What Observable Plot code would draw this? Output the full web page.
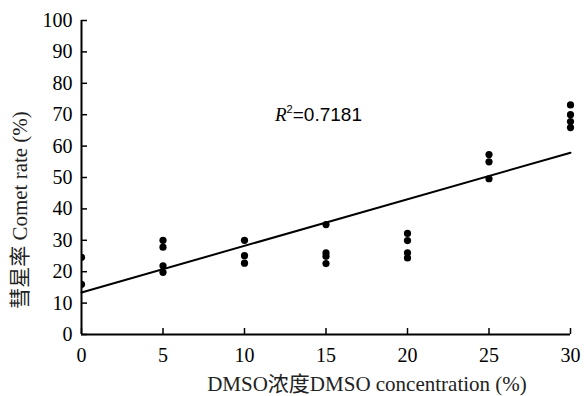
<!DOCTYPE html>
<html>
<head>
<meta charset="utf-8">
<script src="https://cdn.jsdelivr.net/npm/d3@7"></script>
<script src="https://cdn.jsdelivr.net/npm/@observablehq/plot@0.6"></script>
<style>
  html, body { margin: 0; padding: 0; background: #fff; }
  #chart svg { display: block; }
</style>
</head>
<body>
<div id="chart"></div>
<script>
// DMSO concentration (%) of each observation and comet rate (%)
const concentration = [0, 0, 5, 5, 5, 5, 10, 10, 10, 15, 15, 15, 15, 20, 20, 20, 20, 25, 25, 25, 30, 30, 30, 30];
const cometRate =     [24.6, 16.0, 30.0, 27.8, 21.9, 19.8, 30.0, 25.1, 22.7, 35.0, 26.0, 24.9, 22.6, 32.2, 29.9, 26.0, 24.4, 57.3, 55.0, 49.6, 73.1, 70.0, 67.8, 65.9];
// fitted regression line endpoints
const fitX = [0, 30];
const fitY = [13.4, 57.9];
const xTicks = [0, 5, 10, 15, 20, 25, 30];
const yTicks = [0, 10, 20, 30, 40, 50, 60, 70, 80, 90, 100];
const r2Label = "0.7181";
// axis titles split into [text, isCJK] pieces
const xLabelParts = [["DMSO", false], ["浓度", true], ["DMSO concentration (%)", false]];
const yLabelParts = [["彗星率", true], [" Comet rate (%)", false]];

const points = concentration.map((x, i) => ({x, y: cometRate[i]}));
const fit = fitX.map((x, i) => ({x, y: fitY[i]}));

const W = 584, H = 396;
const mL = 81, mR = 14, mT = 20, mB = 62;
const frameW = W - mL - mR, frameH = H - mT - mB;
const serif = "Liberation Serif, serif";
const cjk = "Noto Sans CJK SC, sans-serif";

const chart = Plot.plot({
  width: W,
  height: H,
  marginLeft: mL,
  marginRight: mR,
  marginTop: mT,
  marginBottom: mB,
  style: {fontFamily: serif, fontSize: "20px", color: "#000", background: "#fff"},
  x: {domain: [0, 30], ticks: xTicks},
  y: {domain: [0, 100], ticks: yTicks},
  marks: [
    Plot.axisX(xTicks, {tickSize: 0, tickPadding: 13, fontSize: 20, fontFamily: serif, label: null}),
    Plot.axisY(yTicks, {tickSize: 0, tickPadding: 9, fontSize: 20, fontFamily: serif, label: null}),
    Plot.tickX(xTicks, {x: d => d, insetTop: frameH - 6, stroke: "#000", strokeWidth: 1.5}),
    Plot.tickY(yTicks, {y: d => d, insetRight: frameW - 6, stroke: "#000", strokeWidth: 1.5}),
    Plot.dot(points.filter(d => d.x === 0), {x: "x", y: "y", r: 3.6, fill: "#000", stroke: "none", clip: true}),
    Plot.dot(points.filter(d => d.x !== 0), {x: "x", y: "y", r: 3.6, fill: "#000", stroke: "none"}),
    Plot.line(fit, {x: "x", y: "y", stroke: "#000", strokeWidth: 2}),
    Plot.ruleX([0], {stroke: "#000", strokeWidth: 2}),
    Plot.ruleY([0], {stroke: "#000", strokeWidth: 2})
  ]
});

const svg = d3.select(chart);

function addParts(sel, parts) {
  for (const [t, isCjk] of parts) {
    sel.append("tspan").attr("font-family", isCjk ? cjk : serif).text(t);
  }
}

// x axis title
const xt = svg.append("text")
  .attr("x", 367).attr("y", 391)
  .attr("text-anchor", "middle").attr("font-size", 21).attr("fill", "#222");
addParts(xt, xLabelParts);

// y axis title
const yt = svg.append("text")
  .attr("transform", "translate(27, 210) rotate(-90)")
  .attr("text-anchor", "middle").attr("font-size", 21).attr("fill", "#222");
addParts(yt, yLabelParts);

// R² annotation with italic R and superscript 2
const ann = svg.append("text")
  .attr("x", 275).attr("y", 121)
  .attr("text-anchor", "start")
  .attr("font-size", 19)
  .attr("fill", "#000");
ann.append("tspan").attr("font-family", serif).attr("font-style", "italic").text("R");
ann.append("tspan").attr("font-family", "Liberation Sans, Arial, sans-serif").attr("font-size", 11).attr("dy", -8).text("2");
ann.append("tspan").attr("font-family", "Liberation Sans, Arial, sans-serif").attr("dy", 8).text("=" + r2Label);

document.getElementById("chart").appendChild(chart);
</script>
</body>
</html>
